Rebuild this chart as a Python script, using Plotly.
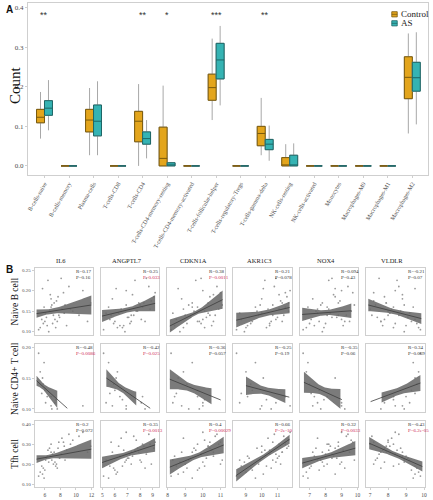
import numpy as np
import plotly.graph_objects as go

W, H = 433, 500
SERIF = "Liberation Serif"
SANS = "Liberation Sans"

# ---------------- Panel A data ----------------
CELL_TYPES = ["B-cells-naive", "B-cells-memory", "Plasma-cells", "T-cells-CD8", "T-cells-CD4",
              "T-cells-CD4-memory-resting", "T-cells-CD4-memory-activated", "T-cells-follicular-helper",
              "T-cells-regulatory-Tregs", "T-cells-gamma-delta", "NK-cells-resting", "NK-cells-activated",
              "Monocytes", "Macrophages-M0", "Macrophages-M1", "Macrophages-M2"]
CTRL_LOW = [0.069, 0, 0.027, 0, 0.000, 0.000, 0, 0.116, 0, 0.027, 0.000, 0, 0, 0, 0, 0.082]
CTRL_Q1 = [0.109, 0, 0.086, 0, 0.061, 0.000, 0, 0.166, 0, 0.051, 0.000, 0, 0, 0, 0, 0.170]
CTRL_MED = [0.123, 0, 0.116, 0, 0.113, 0.019, 0, 0.198, 0, 0.082, 0.001, 0, 0, 0, 0, 0.224]
CTRL_Q3 = [0.143, 0, 0.143, 0, 0.138, 0.098, 0, 0.232, 0, 0.100, 0.021, 0, 0, 0, 0, 0.276]
CTRL_HIGH = [0.187, 0, 0.197, 0, 0.207, 0.203, 0, 0.322, 0, 0.172, 0.055, 0, 0, 0, 0, 0.335]
AS_LOW = [0.090, 0, 0.027, 0, 0.019, 0.000, 0, 0.153, 0, 0.013, 0.000, 0, 0, 0, 0, 0.105]
AS_Q1 = [0.128, 0, 0.076, 0, 0.055, 0.000, 0, 0.220, 0, 0.041, 0.000, 0, 0, 0, 0, 0.189]
AS_MED = [0.146, 0, 0.113, 0, 0.069, 0.002, 0, 0.268, 0, 0.055, 0.002, 0, 0, 0, 0, 0.223]
AS_Q3 = [0.165, 0, 0.154, 0, 0.086, 0.008, 0, 0.310, 0, 0.067, 0.027, 0, 0, 0, 0, 0.262]
AS_HIGH = [0.217, 0, 0.214, 0, 0.116, 0.010, 0, 0.354, 0, 0.102, 0.057, 0, 0, 0, 0, 0.338]
SIG_CATS = ["B-cells-naive", "T-cells-CD4", "T-cells-CD4-memory-resting", "T-cells-follicular-helper",
            "T-cells-gamma-delta"]
SIG_TEXT = ["**", "**", "*", "***", "**"]
A_YTICKS = [0.0, 0.1, 0.2, 0.3, 0.4]

# ---------------- Panel B data ----------------
GENES = ["IL6", "ANGPTL7", "CDKN1A", "AKR1C3", "NOX4", "VLDLR"]
CELLS = ["Naive B cell", "Naive CD4+ T cell", "Tfh cell"]

IL6 = [5.2, 5.6, 5.4, 6.1, 5.8, 6.5, 5.9, 6.3, 7.1, 6.0, 6.8, 6.2, 7.4, 6.6, 5.7, 7.0, 6.9, 7.8, 6.4, 7.3,
       8.2, 6.7, 7.6, 8.5, 7.2, 9.1, 7.9, 6.8, 8.8, 7.5, 9.6, 8.1, 10.4, 7.7, 8.6, 10.9, 9.3, 11.5, 8.4, 11.9]
ANGPTL7 = [5.1, 5.6, 6.2, 5.3, 5.9, 6.8, 5.5, 6.4, 7.3, 6.0, 5.8, 7.0, 6.6, 7.8, 6.1, 7.2, 6.9, 5.7, 7.6, 8.1,
           6.5, 7.4, 8.4, 6.3, 7.9, 8.7, 7.1, 8.2, 6.7, 8.9, 7.7, 8.5, 7.5, 9.1, 8.0, 6.9, 8.8, 7.3, 9.2, 8.3]
CDKN1A = [8.2, 8.5, 8.9, 8.3, 9.1, 8.7, 9.4, 8.4, 9.0, 9.7, 8.8, 9.3, 10.1, 9.5, 8.6, 9.9, 9.2, 10.4, 9.6, 10.0,
          8.9, 10.6, 9.8, 10.3, 9.4, 10.8, 10.2, 9.7, 10.5, 11.0, 10.1, 9.9, 10.7, 10.4, 11.1, 10.0, 10.9, 10.6, 11.0, 10.3]
AKR1C3 = [8.4, 8.7, 9.0, 8.6, 9.3, 8.9, 9.6, 9.1, 9.8, 9.4, 10.0, 9.2, 10.3, 9.7, 10.1, 10.5, 9.9, 10.7, 10.2, 10.9,
          10.4, 11.1, 10.6, 10.0, 11.3, 10.8, 11.0, 11.5, 10.5, 11.2, 11.7, 10.9, 11.4, 11.6, 10.7, 11.8, 11.1, 11.3, 11.5, 11.7]
NOX4 = [6.6, 7.1, 6.8, 7.5, 7.0, 7.8, 6.9, 7.3, 8.1, 7.6, 7.2, 8.4, 7.9, 7.4, 8.6, 8.0, 7.7, 8.8, 8.2, 9.0,
        7.5, 8.5, 9.2, 8.3, 7.8, 9.4, 8.7, 8.1, 9.1, 8.9, 9.6, 8.4, 9.3, 8.6, 9.8, 9.0, 8.2, 9.5, 9.7, 8.8]
VLDLR = [9.8, 9.5, 9.7, 9.2, 9.6, 8.9, 9.4, 9.0, 8.6, 9.3, 8.8, 9.1, 8.3, 8.7, 9.5, 8.4, 8.9, 8.0, 8.5, 7.8,
         8.2, 8.8, 7.6, 8.1, 7.9, 8.6, 7.4, 8.3, 7.7, 7.2, 8.0, 7.5, 7.1, 7.8, 7.3, 8.4, 7.0, 7.6, 7.2, 7.9]
NAIVE_B = [0.105, 0.13, 0.11, 0.145, 0.12, 0.10, 0.16, 0.115, 0.14, 0.125, 0.18, 0.135, 0.11, 0.15, 0.205, 0.12,
           0.165, 0.14, 0.225, 0.13, 0.155, 0.19, 0.125, 0.145, 0.17, 0.21, 0.135, 0.16, 0.115, 0.175, 0.15, 0.23,
           0.14, 0.185, 0.165, 0.20, 0.155, 0.125, 0.195, 0.17]
NAIVE_CD4 = [0.19, 0.125, 0.16, 0.11, 0.14, 0.08, 0.175, 0.12, 0.06, 0.13, 0.105, 0.09, 0.115, 0.04, 0.15, 0.07,
             0.10, 0.05, 0.085, 0.11, 0.03, 0.065, 0.10, 0.02, 0.075, 0.055, 0.0, 0.12, 0.045, 0.03, 0.09, 0.01,
             0.06, 0.0, 0.035, 0.105, 0.02, 0.05, 0.0, 0.04]
TFH = [0.14, 0.19, 0.16, 0.22, 0.18, 0.21, 0.13, 0.24, 0.20, 0.17, 0.26, 0.23, 0.19, 0.28, 0.15, 0.25, 0.22, 0.31,
       0.27, 0.21, 0.33, 0.24, 0.18, 0.29, 0.26, 0.35, 0.23, 0.30, 0.27, 0.20, 0.32, 0.25, 0.34, 0.28, 0.22, 0.36,
       0.30, 0.26, 0.31, 0.29]

# fitted lines / confidence bands (row-major: 3 cell rows x 6 genes)
LINE_X0 = [4.93, 4.98, 8.13, 8.38, 6.54, 6.90, 4.93, 5.32, 8.13, 9.00, 6.65, 7.03, 4.93, 4.98, 8.13, 8.38, 6.54, 6.95]
LINE_X1 = [11.99, 9.20, 11.12, 11.77, 9.61, 9.85, 8.89, 8.81, 11.01, 11.75, 9.02, 9.80, 11.99, 9.20, 11.18, 11.77, 9.86, 9.91]
LINE_Y0 = [0.144, 0.138, 0.114, 0.128, 0.142, 0.165, 0.1456, 0.150, 0.148, 0.1376, 0.143, 0.1118, 0.225, 0.208, 0.185, 0.143, 0.205, 0.305]
LINE_Y1 = [0.165, 0.169, 0.178, 0.159, 0.151, 0.132, 0.101, 0.101, 0.1145, 0.119, 0.115, 0.1419, 0.275, 0.2965, 0.296, 0.325, 0.280, 0.188]
BAND_X0 = [4.93, 4.98, 8.13, 8.38, 6.54, 6.90, 4.93, 5.32, 8.13, 9.00, 6.65, 7.64, 4.93, 4.98, 8.13, 8.38, 6.54, 6.95]
BAND_X1 = [11.99, 9.20, 11.12, 11.77, 9.61, 9.85, 7.60, 7.70, 10.49, 11.50, 8.93, 9.80, 11.99, 9.20, 11.18, 11.77, 9.86, 9.91]
BAND_XC = [6.60, 7.09, 9.64, 10.25, 8.00, 8.38, 5.80, 6.50, 9.30, 10.20, 7.80, 8.60, 6.50, 6.96, 9.64, 10.25, 8.00, 8.38]
BAND_HL = [0.010, 0.0146, 0.016, 0.018, 0.016, 0.015, 0.008, 0.014, 0.016, 0.015, 0.017, 0.008, 0.020, 0.029, 0.0375, 0.031, 0.026, 0.031]
BAND_HM = [0.006, 0.0057, 0.005, 0.007, 0.006, 0.006, 0.005, 0.0055, 0.0065, 0.006, 0.007, 0.006, 0.010, 0.0125, 0.0125, 0.0125, 0.0125, 0.0125]
BAND_HR = [0.023, 0.0195, 0.022, 0.014, 0.0175, 0.013, 0.014, 0.011, 0.013, 0.011, 0.016, 0.013, 0.048, 0.034, 0.042, 0.0225, 0.036, 0.025]
R_TEXT = ["0.17", "0.25", "0.38", "0.21", "0.094", "-0.21", "-0.48", "-0.42", "-0.36", "-0.25", "-0.35", "0.34",
          "0.2", "0.35", "0.4", "0.66", "0.32", "-0.43"]
P_TEXT = ["0.16", "0.033", "0.0011", "0.078", "0.43", "0.07", "0.0086", "0.025", "0.057", "0.19", "0.06", "0.069",
          "0.072", "0.0013", "0.00029", "2e-10", "0.0033", "6.2e-05"]
P_VALUE = [0.16, 0.033, 0.0011, 0.078, 0.43, 0.07, 0.0086, 0.025, 0.057, 0.19, 0.06, 0.069,
           0.072, 0.0013, 0.00029, 2e-10, 0.0033, 6.2e-05]

X_RANGES = [[4.70, 12.25], [4.88, 9.54], [7.96, 11.28], [8.20, 11.92], [6.38, 10.04], [6.77, 10.03]]
X_TICKS = [[6, 8, 10, 12], [5, 6, 7, 8, 9], [8, 9, 10, 11], [9, 10, 11], [7, 8, 9, 10], [7, 8, 9, 10]]
Y_RANGES = [[0.092, 0.255], [0.095, 0.205], [0.085, 0.4165]]
Y_TICKS = [[0.10, 0.15, 0.20, 0.25], [0.10, 0.15, 0.20], [0.10, 0.20, 0.30, 0.40]]
Y_TICKTEXT = [["0.10", "0.15", "0.20", "0.25"], ["0.10", "0.15", "0.20"], ["0.10", "0.20", "0.30", "0.40"]]

# ---------------- styling / layout constants ----------------
C_CTRL, C_CTRL_D = "#E3A51C", "#7a5a0c"
C_AS, C_AS_D = "#35B3B3", "#1d6666"
BORDER = "#cfcfcf"
TICKC = "#4d4d4d"

A_BOX = (27, 430, 3, 175)            # left, right, top, bottom in px
COL_L = [34, 100.5, 167, 234, 300.7, 367.5]
PW = 59
ROW_T = [268, 344, 421]
ROW_B = [335, 412, 487]


def px_x(v):
    return v / W


def px_y(v):
    return 1 - v / H


fig = go.Figure()

# ---- Panel A boxes ----
for name, col, dark, lo, q1, med, q3, hi, og in [
        ("Control", C_CTRL, C_CTRL_D, CTRL_LOW, CTRL_Q1, CTRL_MED, CTRL_Q3, CTRL_HIGH, "ctrl"),
        ("AS", C_AS, C_AS_D, AS_LOW, AS_Q1, AS_MED, AS_Q3, AS_HIGH, "as")]:
    fig.add_trace(go.Box(x=CELL_TYPES, lowerfence=lo, q1=q1, median=med, q3=q3, upperfence=hi,
                         offsetgroup=og, line=dict(color="#a8a8a8", width=1), fillcolor="rgba(0,0,0,0)",
                         whiskerwidth=0, showlegend=False, hoverinfo="skip", xaxis="x", yaxis="y"))
    fig.add_trace(go.Box(x=CELL_TYPES, lowerfence=q1, q1=q1, median=med, q3=q3, upperfence=q3,
                         offsetgroup=og, name=name, line=dict(color=dark, width=1), fillcolor=col,
                         whiskerwidth=0, showlegend=False, xaxis="x", yaxis="y"))

annotations = []
shapes = []
for cat, txt in zip(SIG_CATS, SIG_TEXT):
    annotations.append(dict(x=cat, y=0.381, xref="x", yref="y", text=txt, showarrow=False,
                            font=dict(family=SANS, size=9, color="#333"), xanchor="center", yanchor="middle"))

# manual legend
for i, (name, col, dark) in enumerate([("Control", C_CTRL, C_CTRL_D), ("AS", C_AS, C_AS_D)]):
    cy = 14.3 + 9 * i
    shapes.append(dict(type="rect", xref="paper", yref="paper", x0=px_x(393.5), x1=px_x(399),
                       y0=px_y(cy + 2.6), y1=px_y(cy - 2.6), fillcolor=col, line=dict(color=dark, width=0.8)))
    shapes.append(dict(type="line", xref="paper", yref="paper", x0=px_x(393.5), x1=px_x(399),
                       y0=px_y(cy), y1=px_y(cy), line=dict(color=dark, width=0.8)))
    annotations.append(dict(x=px_x(400.5), y=px_y(cy), xref="paper", yref="paper", text=name,
                            showarrow=False, xanchor="left", yanchor="middle",
                            font=dict(family=SERIF, size=9, color="#222")))

layout_axes = {}
layout_axes["xaxis"] = dict(domain=[px_x(A_BOX[0]), px_x(A_BOX[1])], range=[-0.68, 15.64], type="category",
                            anchor="y", showline=True, mirror=True, linecolor=BORDER, linewidth=1,
                            ticks="outside", ticklen=2, tickcolor=BORDER, tickangle=-60,
                            tickfont=dict(family=SERIF, size=6, color=TICKC), showgrid=False, zeroline=False)
layout_axes["yaxis"] = dict(domain=[px_y(A_BOX[3]), px_y(A_BOX[2])], range=[-0.023, 0.412], anchor="x",
                            tickvals=A_YTICKS, ticktext=["%.1f" % v for v in A_YTICKS],
                            showline=True, mirror=True, linecolor=BORDER, linewidth=1,
                            ticks="outside", ticklen=2, tickcolor=BORDER,
                            tickfont=dict(family=SERIF, size=7, color=TICKC), showgrid=False, zeroline=False)
annotations.append(dict(x=px_x(14), y=px_y(85), xref="paper", yref="paper", text="Count", textangle=-90,
                        showarrow=False, xanchor="center", yanchor="middle",
                        font=dict(family=SERIF, size=15, color="#111")))
annotations.append(dict(x=px_x(3), y=px_y(9), xref="paper", yref="paper", text="<b>A</b>", showarrow=False,
                        xanchor="left", yanchor="middle", font=dict(family=SANS, size=10, color="#111")))
annotations.append(dict(x=px_x(3), y=px_y(269), xref="paper", yref="paper", text="<b>B</b>", showarrow=False,
                        xanchor="left", yanchor="middle", font=dict(family=SANS, size=10, color="#111")))

# ---- Panel B ----
GENE_X = [IL6, ANGPTL7, CDKN1A, AKR1C3, NOX4, VLDLR]
CELL_Y = [NAIVE_B, NAIVE_CD4, TFH]


def half_width(x, k):
    x0, x1, xc = BAND_X0[k], BAND_X1[k], BAND_XC[k]
    hl, hm, hr = BAND_HL[k], BAND_HM[k], BAND_HR[k]
    h = np.empty_like(x)
    left = x < xc
    tl = (x[left] - xc) / (x0 - xc)
    h[left] = np.sqrt(hm ** 2 + (hl ** 2 - hm ** 2) * tl ** 2)
    tr = (x[~left] - xc) / (x1 - xc)
    h[~left] = np.sqrt(hm ** 2 + (hr ** 2 - hm ** 2) * tr ** 2)
    return h


def line_y(x, k):
    return LINE_Y0[k] + (LINE_Y1[k] - LINE_Y0[k]) * (x - LINE_X0[k]) / (LINE_X1[k] - LINE_X0[k])


for r in range(3):
    for c in range(6):
        k = r * 6 + c
        n = k + 2
        xa, ya = "x%d" % n, "y%d" % n
        # scatter points
        fig.add_trace(go.Scatter(x=GENE_X[c], y=CELL_Y[r], mode="markers", xaxis=xa, yaxis=ya,
                                 marker=dict(size=1.8, color="#9a9a9a"), showlegend=False, hoverinfo="skip"))
        # confidence band
        bx = np.linspace(BAND_X0[k], BAND_X1[k], 60)
        by = line_y(bx, k)
        hw = half_width(bx, k)
        fig.add_trace(go.Scatter(x=np.concatenate([bx, bx[::-1]]), y=np.concatenate([by + hw, (by - hw)[::-1]]),
                                 fill="toself", mode="lines", line=dict(width=0), fillcolor="rgba(105,105,105,0.88)",
                                 xaxis=xa, yaxis=ya, showlegend=False, hoverinfo="skip"))
        # fitted line
        lx = np.array([LINE_X0[k], LINE_X1[k]])
        fig.add_trace(go.Scatter(x=lx, y=line_y(lx, k), mode="lines", line=dict(color="#3c3c3c", width=0.8),
                                 xaxis=xa, yaxis=ya, showlegend=False, hoverinfo="skip"))

        layout_axes["xaxis%d" % n] = dict(
            domain=[px_x(COL_L[c]), px_x(COL_L[c] + PW)], range=X_RANGES[c], anchor=ya,
            tickvals=X_TICKS[c], showticklabels=(r == 2), ticks="outside" if r == 2 else "",
            ticklen=2, tickcolor=BORDER, showline=True, mirror=True, linecolor=BORDER, linewidth=1,
            tickfont=dict(family=SERIF, size=5.5, color=TICKC), showgrid=False, zeroline=False)
        layout_axes["yaxis%d" % n] = dict(
            domain=[px_y(ROW_B[r]), px_y(ROW_T[r])], range=Y_RANGES[r], anchor=xa,
            tickvals=Y_TICKS[r], ticktext=Y_TICKTEXT[r], showticklabels=(c == 0),
            ticks="outside" if c == 0 else "", ticklen=2, tickcolor=BORDER,
            showline=True, mirror=True, linecolor=BORDER, linewidth=1,
            tickfont=dict(family=SERIF, size=5, color=TICKC), showgrid=False, zeroline=False)

        # R / P labels
        pcol = "#d02c55" if P_VALUE[k] < 0.05 else "#333333"
        annotations.append(dict(x=px_x(COL_L[c] + 40), y=px_y(ROW_T[r] + 3.5), xref="paper", yref="paper",
                                text="R=" + R_TEXT[k], showarrow=False, xanchor="left", yanchor="middle",
                                font=dict(family=SERIF, size=5, color="#333333")))
        annotations.append(dict(x=px_x(COL_L[c] + 40), y=px_y(ROW_T[r] + 9), xref="paper", yref="paper",
                                text="P=" + P_TEXT[k], showarrow=False, xanchor="left", yanchor="middle",
                                font=dict(family=SERIF, size=5, color=pcol)))

for c, g in enumerate(GENES):
    annotations.append(dict(x=px_x(COL_L[c] + PW / 2 - 3), y=px_y(260), xref="paper", yref="paper", text=g,
                            showarrow=False, xanchor="center", yanchor="middle",
                            font=dict(family=SERIF, size=6.5, color="#222")))
for r, cell in enumerate(CELLS):
    annotations.append(dict(x=px_x(14), y=px_y((ROW_T[r] + ROW_B[r]) / 2), xref="paper", yref="paper",
                            text=cell, textangle=-90, showarrow=False, xanchor="center", yanchor="middle",
                            font=dict(family=SERIF, size=9.5, color="#111")))

fig.update_layout(width=W, height=H, margin=dict(l=0, r=0, t=0, b=0), paper_bgcolor="white",
                  plot_bgcolor="white", boxmode="group", boxgap=0.35, boxgroupgap=0.0,
                  showlegend=False, annotations=annotations, shapes=shapes, **layout_axes)

fig.write_html("out.html", config={"displayModeBar": False},
               post_script="document.body.style.margin='0px';document.body.style.overflow='hidden';")
